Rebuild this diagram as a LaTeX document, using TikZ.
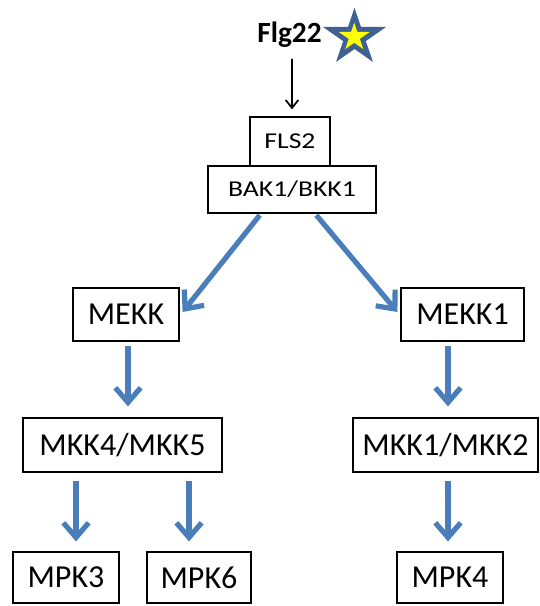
\documentclass[tikz,border=0pt]{standalone}
\usepackage{fontspec}
\setmainfont{Carlito}
\usepackage{graphicx}
\usetikzlibrary{arrows.meta,calc}
\definecolor{arrowblue}{RGB}{74,126,187}
\definecolor{starblue}{RGB}{62,96,146}
\definecolor{staryellow}{RGB}{255,255,0}
\tikzset{
  box/.style={draw=black, line width=0.9pt, fill=white, inner sep=0pt,
    font=\fontsize{24}{28}\selectfont},
  smallbox/.style={box, font=\fontsize{17}{20}\selectfont},
  barrow/.style={draw=arrowblue, line width=3.9pt,
    -{Straight Barb[length=11pt,width=19pt]}},
  karrow/.style={draw=black, line width=1.3pt,
    -{Straight Barb[length=6pt,width=9.5pt]}}
}
\begin{document}
\begin{tikzpicture}[x=0.75pt,y=-0.75pt]
\useasboundingbox (0,0) rectangle (539,606);

% title
\node[anchor=base, inner sep=0pt, font=\fontsize{22}{26}\selectfont\bfseries] (flg) at (289.5,43) {Flg22};

% star
\fill[starblue] (354.5,8) -- (361,27) -- (386,27) -- (365.8,41.1) -- (373,62) -- (354.5,49)
  -- (336,62) -- (343.2,41.1) -- (323,27) -- (348,27) -- cycle;
\begin{scope}[shift={(354,36.8)}, scale=0.49, shift={(-354,-36.8)}]
\fill[staryellow] (354.5,8) -- (361,27) -- (386,27) -- (365.8,41.1) -- (373,62) -- (354.5,49)
  -- (336,62) -- (343.2,41.1) -- (323,27) -- (348,27) -- cycle;
\end{scope}

% receptor boxes
\node[smallbox, minimum width=60pt, minimum height=36.75pt] (fls) at (290,141.5) {\scalebox{1.22}[1]{FLS2}};
\node[smallbox, minimum width=126pt, minimum height=35.25pt] (bak) at (292,189.5) {\scalebox{1.22}[1]{BAK1/BKK1}};

% kinase boxes
\node[box, minimum width=79.5pt, minimum height=39.75pt] (mekk) at (126,314.5) {MEKK};
\node[box, minimum width=92.25pt, minimum height=39.75pt] (mekk1) at (462.5,314.5) {MEKK1};
\node[box, minimum width=149.25pt, minimum height=40.5pt] (mkk45) at (122.5,445) {MKK4/MKK5};
\node[box, minimum width=138.75pt, minimum height=40.5pt] (mkk12) at (445.5,445) {MKK1/MKK2};
\node[box, minimum width=79.5pt, minimum height=38.25pt] (mpk3) at (66,577.5) {MPK3};
\node[box, minimum width=78pt, minimum height=38.25pt] (mpk6) at (199,577.5) {MPK6};
\node[box, minimum width=79.5pt, minimum height=38.25pt] (mpk4) at (450,577.5) {MPK4};

% connectors
\draw[karrow, shorten <=8pt, shorten >=5.25pt] ($(flg.south)+(1.9pt,0)$) -- ($(fls.north)+(1.5pt,0)$);

\draw[barrow, shorten <=1.5pt] ($(bak.south)+(-23.25pt,0)$) -- ($(mekk.east)+(2.25pt,1.875pt)$);
\draw[barrow, shorten <=1.5pt] ($(bak.south)+(17.25pt,0)$) -- ($(mekk1.west)+(-2.25pt,1.875pt)$);

\draw[barrow, shorten <=3pt, shorten >=8.25pt] ($(mekk.south)+(1.5pt,0)$) -- ($(mekk.south |- mkk45.north)+(1.5pt,0)$);
\draw[barrow, shorten <=3pt, shorten >=8.25pt] ($(mkk12.north |- mekk1.south)+(1.875pt,0)$) -- ($(mkk12.north)+(1.875pt,0)$);

\draw[barrow, shorten <=6pt, shorten >=7.5pt] ($(mpk3.north |- mkk45.south)+(7.5pt,0)$) -- ($(mpk3.north)+(7.5pt,0)$);
\draw[barrow, shorten <=6pt, shorten >=7.5pt] ($(mpk6.north |- mkk45.south)+(-7.5pt,0)$) -- ($(mpk6.north)+(-7.5pt,0)$);
\draw[barrow, shorten <=6pt, shorten >=7.5pt] ($(mpk4.north |- mkk12.south)+(-1.5pt,0)$) -- ($(mpk4.north)+(-1.5pt,0)$);
\end{tikzpicture}
\end{document}
